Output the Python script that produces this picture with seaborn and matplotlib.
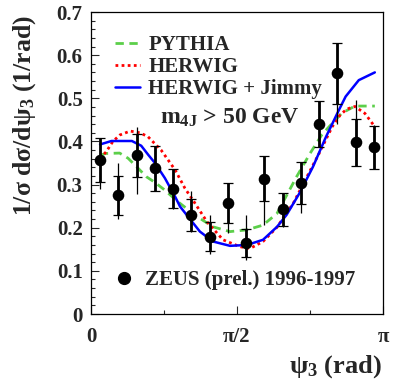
import numpy as np
import pandas as pd
import matplotlib
matplotlib.use("Agg")
import matplotlib.pyplot as plt
import seaborn as sns
from matplotlib.ticker import FixedLocator, MultipleLocator
from matplotlib.lines import Line2D

# ---------------- data ----------------
# ZEUS points: bin centres given in units of pi
data_x_pi = [0.03125, 0.09375, 0.15625, 0.21875, 0.28125, 0.34375, 0.40625, 0.46875,
             0.53125, 0.59375, 0.65625, 0.71875, 0.78125, 0.84375, 0.90625, 0.96875]
data_y = [0.357, 0.275, 0.368, 0.338, 0.290, 0.229, 0.179, 0.257,
          0.164, 0.314, 0.243, 0.303, 0.440, 0.558, 0.398, 0.386]
stat_err = [0.052, 0.045, 0.050, 0.052, 0.045, 0.037, 0.034, 0.047,
            0.033, 0.052, 0.038, 0.049, 0.054, 0.071, 0.054, 0.050]
tot_lo = [0.290, 0.220, 0.278, 0.286, 0.243, 0.190, 0.140, 0.188,
          0.125, 0.206, 0.202, 0.235, 0.386, 0.440, 0.343, 0.338]
tot_hi = [0.409, 0.351, 0.434, 0.390, 0.335, 0.286, 0.229, 0.303,
          0.229, 0.366, 0.281, 0.353, 0.493, 0.629, 0.496, 0.438]

# Monte Carlo curves (x in units of pi)
pythia_x_pi = [0.031, 0.050, 0.098, 0.127, 0.161, 0.190, 0.219, 0.253, 0.298, 0.363,
               0.418, 0.476, 0.534, 0.589, 0.637, 0.670, 0.704, 0.750, 0.790, 0.818,
               0.858, 0.904, 0.972]
pythia_y = [0.368, 0.372, 0.373, 0.361, 0.338, 0.318, 0.305, 0.287, 0.260, 0.226,
            0.202, 0.191, 0.195, 0.206, 0.233, 0.275, 0.318, 0.372, 0.415, 0.436,
            0.465, 0.482, 0.482]

herwig_x_pi = [0.031, 0.052, 0.075, 0.099, 0.134, 0.168, 0.195, 0.240, 0.288, 0.322,
               0.349, 0.397, 0.452, 0.510, 0.545, 0.589, 0.637, 0.693, 0.734, 0.781,
               0.826, 0.853, 0.876, 0.904, 0.938, 0.972]
herwig_y = [0.360, 0.376, 0.400, 0.415, 0.424, 0.420, 0.411, 0.380, 0.334, 0.291,
            0.264, 0.214, 0.172, 0.156, 0.152, 0.168, 0.201, 0.257, 0.311, 0.372,
            0.434, 0.461, 0.475, 0.481, 0.465, 0.434]

jimmy_x_pi = [0.031, 0.070, 0.140, 0.172, 0.196, 0.219, 0.253, 0.288, 0.305, 0.332,
              0.373, 0.418, 0.476, 0.534, 0.589, 0.637, 0.670, 0.714, 0.760, 0.805,
              0.847, 0.872, 0.917, 0.972]
jimmy_y = [0.393, 0.401, 0.401, 0.390, 0.369, 0.350, 0.315, 0.272, 0.249, 0.226,
           0.191, 0.168, 0.158, 0.160, 0.172, 0.202, 0.230, 0.280, 0.341, 0.411,
           0.470, 0.504, 0.542, 0.560]

series_labels = ["PYTHIA", "HERWIG", "HERWIG + Jimmy"]
data_label = "ZEUS (prel.) 1996-1997"
x_tick_pos_pi = [0.0, 0.5, 1.0]
x_tick_labels = ["0", "π/2", "π"]
x_minor_pi = [0.25, 0.75]
y_ticks = [0, 0.1, 0.2, 0.3, 0.4, 0.5, 0.6, 0.7]
y_tick_labels = ["0", "0.1", "0.2", "0.3", "0.4", "0.5", "0.6", "0.7"]

# ---------------- style ----------------
sns.set_style("ticks")
plt.rcParams["font.family"] = ["Liberation Serif", "DejaVu Serif"]
plt.rcParams["font.weight"] = "bold"
plt.rcParams["mathtext.fontset"] = "custom"
plt.rcParams["mathtext.rm"] = "Liberation Serif:bold"
plt.rcParams["mathtext.bf"] = "Liberation Serif:bold"
plt.rcParams["mathtext.it"] = "Liberation Serif:bold"
plt.rcParams["mathtext.default"] = "rm"

fig = plt.figure(figsize=(3.93, 3.81), dpi=100)
ax = fig.add_axes([91 / 393, 1 - 314 / 381, 292 / 393, 302 / 381])

green = "#5ccf4a"
red = "#ff0000"
blue = "#0000ff"

curves = pd.concat([
    pd.DataFrame({"psi": np.array(pythia_x_pi) * np.pi, "val": pythia_y, "model": series_labels[0]}),
    pd.DataFrame({"psi": np.array(herwig_x_pi) * np.pi, "val": herwig_y, "model": series_labels[1]}),
    pd.DataFrame({"psi": np.array(jimmy_x_pi) * np.pi, "val": jimmy_y, "model": series_labels[2]}),
])

styles = {
    series_labels[0]: dict(color=green, ls=(0, (3, 2)), lw=2.0),
    series_labels[1]: dict(color=red, ls=(0, (1, 1.2)), lw=2.0),
    series_labels[2]: dict(color=blue, ls="-", lw=1.8),
}
for name, sub in curves.groupby("model", sort=False):
    st = styles[name]
    sns.lineplot(data=sub, x="psi", y="val", ax=ax, color=st["color"],
                 linestyle=st["ls"], linewidth=st["lw"], sort=False,
                 estimator=None, legend=False, zorder=2)

px = np.array(data_x_pi) * np.pi
py = np.array(data_y)
# total errors (thin)
ax.vlines(px, tot_lo, tot_hi, color="black", lw=0.9, zorder=3)
# statistical errors (thick, with caps)
ax.errorbar(px, py, yerr=stat_err, fmt="none", ecolor="black", elinewidth=2.0,
            capsize=3.3, capthick=0.9, zorder=3)
pts = pd.DataFrame({"psi": px, "val": py})
sns.scatterplot(data=pts, x="psi", y="val", ax=ax, color="black", s=70,
                edgecolor="black", linewidth=0, zorder=4, legend=False)

ax.set_xlim(0, np.pi)
ax.set_ylim(0, 0.7)
ax.set_xticks(np.array(x_tick_pos_pi) * np.pi)
ax.set_xticklabels(x_tick_labels)
ax.xaxis.set_minor_locator(FixedLocator(np.array(x_minor_pi) * np.pi))
ax.set_yticks(y_ticks)
ax.set_yticklabels(y_tick_labels)
ax.yaxis.set_minor_locator(MultipleLocator(0.02))
ax.tick_params(axis="both", which="major", direction="in", length=6, width=0.8,
               labelsize=15, top=False, right=False)
ax.tick_params(axis="y", which="major", pad=6)
ax.tick_params(axis="x", which="major", pad=9)
ax.tick_params(axis="both", which="minor", direction="in", length=3.2, width=0.8,
               top=False, right=False)
for s in ax.spines.values():
    s.set_linewidth(0.9)
    s.set_color("black")

ax.set_xlabel("")
ax.set_ylabel("")
fig.text(25 / 393, 1 - 116 / 381, "1/σ dσ/dψ$_{3}$ (1/rad)", rotation=90,
         ha="center", va="center", fontsize=18.5, fontweight="bold")
fig.text(382 / 393, 1 - 373 / 381, "ψ$_{3}$ (rad)", ha="right", va="baseline",
         fontsize=19, fontweight="bold")

handles = [Line2D([], [], color=styles[n]["color"], linestyle=styles[n]["ls"],
                  linewidth=styles[n]["lw"]) for n in series_labels]
leg1 = ax.legend(handles, series_labels, loc="upper left",
                 bbox_to_anchor=((115 - 91) / 292, (314 - 35) / 302),
                 frameon=False, fontsize=15, handlelength=1.2, handletextpad=0.4,
                 labelspacing=0.1, borderpad=0, borderaxespad=0)
ax.add_artist(leg1)
h2 = [Line2D([], [], marker="o", color="black", ls="none", markersize=8.5)]
ax.legend(h2, [data_label], loc="upper left",
          bbox_to_anchor=((118 - 91) / 292, (314 - 270) / 302),
          frameon=False, fontsize=15, handlelength=0.6, handletextpad=0.7,
          borderpad=0, borderaxespad=0)

ax.text((160 - 91) / 292, (314 - 124) / 302, "m$_{4J}$ > 50 GeV",
        transform=ax.transAxes, ha="left", va="baseline", fontsize=17,
        fontweight="bold")

fig.savefig("out.png", dpi=100)
